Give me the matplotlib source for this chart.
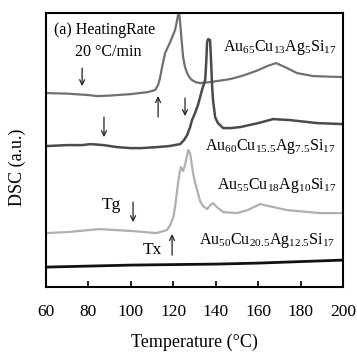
import numpy as np
import matplotlib
matplotlib.use("Agg")
import matplotlib.pyplot as plt

plt.rcParams['font.family'] = ['Liberation Serif', 'DejaVu Serif']
plt.rcParams['mathtext.fontset'] = 'custom'
plt.rcParams['mathtext.rm'] = 'Liberation Serif'
plt.rcParams['mathtext.it'] = 'Liberation Serif'

# DSC traces (temperature in degC, signal in arbitrary units, curves already offset)
t_au65 = [60, 70, 80, 84, 90, 100, 108, 111.4, 112.8, 113.7, 114.7, 116.1, 118.5, 120.8, 121.6,
          122.2, 122.7, 123.2, 123.6, 124.6, 125.5, 126.5, 127.5, 128.8, 130.5, 132.6, 137.3,
          146.8, 152, 156.2, 160, 164.2, 168.4, 172.7, 178.3, 185.9, 200]
s_au65 = [194, 193.5, 192, 191, 191.5, 193, 195, 197, 202, 209, 220, 234, 245, 257, 265,
          272, 275, 265, 254, 230, 220, 214, 210, 207, 205, 204, 205,
          208, 211, 214, 217, 221, 224, 220, 214, 211, 210]

t_au60 = [60, 70, 77, 81, 87, 93.5, 99.6, 105, 112.3, 118, 123.2, 125, 126.5, 127.9, 128.8,
          130.2, 131.6, 133.5, 135, 135.5, 135.9, 136.4, 137.3, 137.6, 137.9, 138.3, 138.7,
          139.7, 141, 143.5, 147, 151.5, 160, 167, 175, 187.8, 200]
s_au60 = [141, 142, 142, 143, 142, 140, 139, 139, 140, 141, 143, 147, 152, 160, 167,
          174, 182, 197, 207, 225, 245, 248, 247, 235, 220, 200, 187,
          170, 164, 159, 159, 160, 164, 168, 167, 164, 163]

t_au55 = [60, 70, 85, 101, 112, 117, 118.5, 120, 120.8, 121.5, 122.2, 123, 123.6, 124.6, 125.5,
          126.3, 127, 127.9, 128.6, 129.3, 130.3, 131.2, 132.6, 134, 135.9, 137.5, 138.7, 140,
          143.5, 150, 155, 160.9, 165, 173.6, 189.2, 200]
s_au55 = [54, 55, 58, 56, 54, 57, 62, 70, 80, 92, 104, 115, 120, 116, 122,
          130, 137, 134, 124, 114, 104, 97, 86, 81, 78, 82, 84, 81,
          75, 74, 77, 83, 81, 77, 74, 74]

t_au50 = [60, 80, 100, 120, 140, 160, 180, 200]
s_au50 = [20, 21, 22, 22.5, 23, 24, 25.5, 27]

labels = [r'Au$_{\mathrm{65}}$Cu$_{\mathrm{13}}$Ag$_{\mathrm{5}}$Si$_{\mathrm{17}}$',
          r'Au$_{\mathrm{60}}$Cu$_{\mathrm{15.5}}$Ag$_{\mathrm{7.5}}$Si$_{\mathrm{17}}$',
          r'Au$_{\mathrm{55}}$Cu$_{\mathrm{18}}$Ag$_{\mathrm{10}}$Si$_{\mathrm{17}}$',
          r'Au$_{\mathrm{50}}$Cu$_{\mathrm{20.5}}$Ag$_{\mathrm{12.5}}$Si$_{\mathrm{17}}$']

fig = plt.figure(figsize=(3.57, 3.54), dpi=100)
ax = fig.add_axes([0.129, 0.189, 0.832, 0.774])

ax.plot(t_au65, s_au65, color='#707070', lw=1.6)
ax.plot(t_au60, s_au60, color='#4a4a4a', lw=1.8)
ax.plot(t_au55, s_au55, color='#b0b0b0', lw=1.6)
ax.plot(t_au50, s_au50, color='#111111', lw=2.0)

ax.set_xlim(60, 200)
ax.set_ylim(0, 274)
ax.set_xticks(np.arange(60, 201, 20))
ax.set_yticks([])
ax.tick_params(axis='x', direction='in', length=4, width=1.2, labelsize=12.5, pad=12)
for sp in ax.spines.values():
    sp.set_linewidth(1.5)
ax.set_xlabel('Temperature (°C)', fontsize=13, va='center')
ax.xaxis.set_label_coords(0.5, -0.20)
ax.set_ylabel('DSC (a.u.)', fontsize=13, va='center', ha='center')
ax.yaxis.set_label_coords(-0.098, 0.438)

ax.text(63.8, 257, '(a) HeatingRate', fontsize=11.5, va='center')
ax.text(89.2, 235, '20 °C/min', fontsize=11.5, va='center', ha='center')
ax.text(143.4, 240, labels[0], fontsize=11.5, va='center')
ax.text(135, 141, labels[1], fontsize=11.5, va='center')
ax.text(140.6, 102, labels[2], fontsize=11.5, va='center')
ax.text(132.1, 47, labels[3], fontsize=11.5, va='center')
ax.text(90.6, 82, 'Tg', fontsize=12.5, va='center', ha='center')
ax.text(110, 37, 'Tx', fontsize=12.5, va='center', ha='center')

# Tg / Tx markers: (x, y_tail, y_head)
marks = [(77, 219, 201), (112.8, 170, 191), (125.5, 189, 171),
         (87.3, 170, 150), (101, 85, 65), (119.4, 32, 53)]
for x, y0, y1 in marks:
    ax.annotate('', xy=(x, y1), xytext=(x, y0),
                arrowprops=dict(arrowstyle='->', lw=0.9, color='#222222',
                                mutation_scale=9, shrinkA=0, shrinkB=0))

fig.savefig('out.png', dpi=100)
